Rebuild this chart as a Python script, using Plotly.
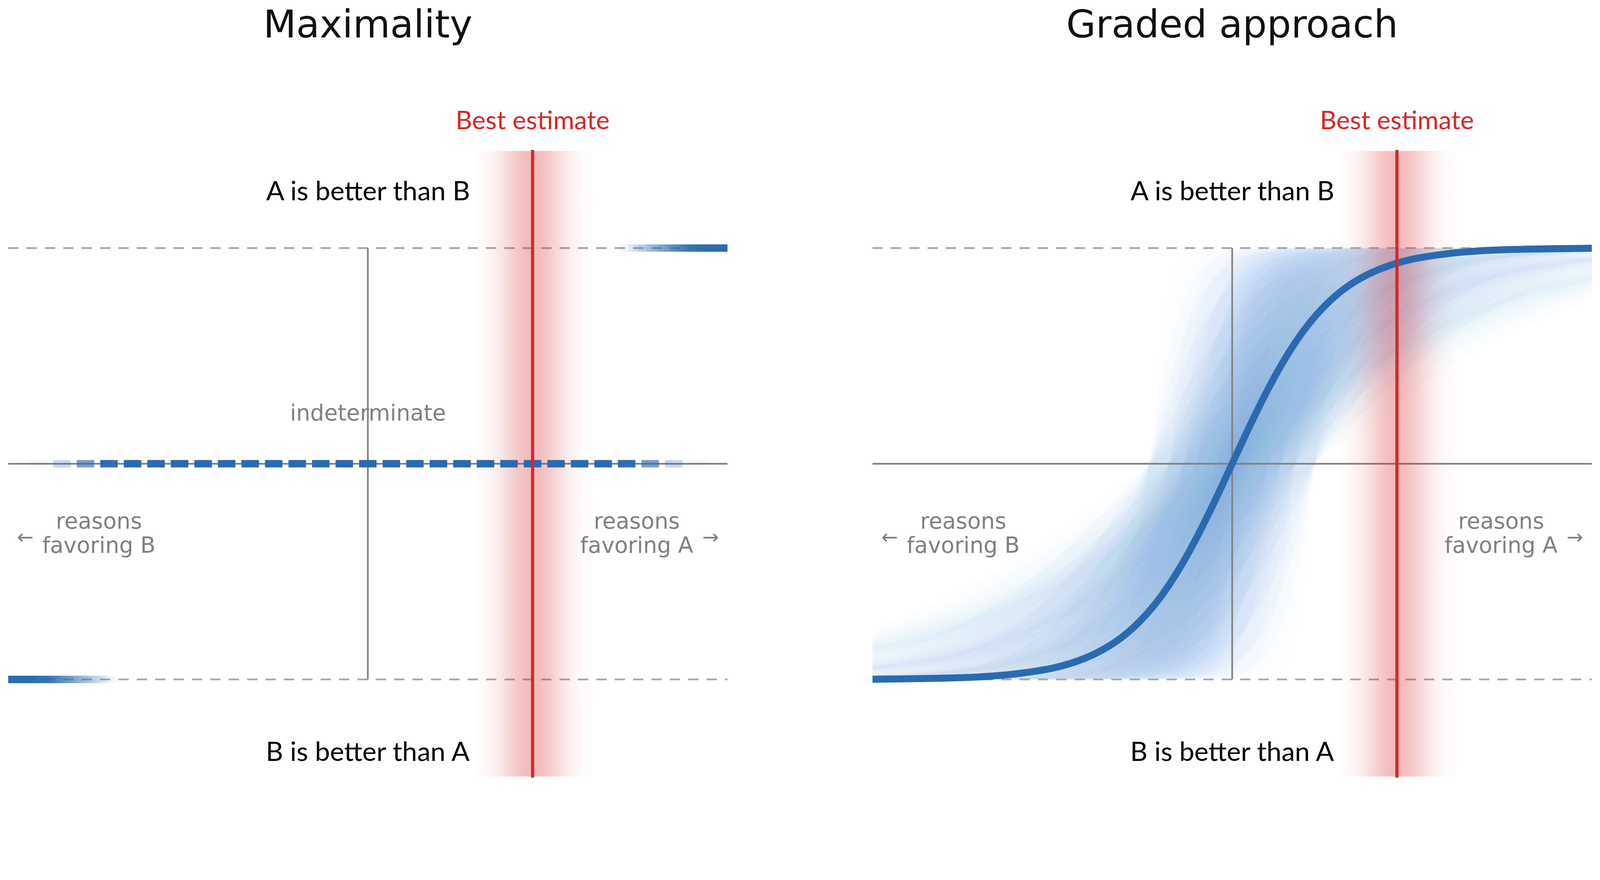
import numpy as np
import plotly.graph_objects as go

# reasons axis runs from -1 (everything favours B) to +1 (everything favours A)
best_estimate = 0.458
estimate_halfwidth = 0.1635
band_top = 1.45

# Maximality: share of admissible weightings backing a firm verdict (right half, left mirrors)
verdict_x = [0.68, 0.72, 0.75, 0.785, 0.817, 0.85, 0.886, 0.94, 1.0]
verdict_share = [0.0, 0.08, 0.26, 0.45, 0.6, 0.76, 0.92, 1.0, 1.0]
indet_x = [0.0, 0.66, 0.72, 0.785, 0.85, 0.915, 0.98]
indet_share = [1.0, 1.0, 0.97, 0.64, 0.26, 0.05, 0.0]

# Graded approach: comparative verdict
graded_x = [-1.0, -0.9, -0.8, -0.7, -0.6, -0.5, -0.45, -0.4, -0.35, -0.3, -0.25, -0.2,
            -0.15, -0.1, -0.05, 0.0, 0.05, 0.1, 0.15, 0.2, 0.25, 0.3, 0.35, 0.4, 0.45,
            0.5, 0.6, 0.7, 0.8, 0.9, 1.0]
graded_y = [-0.999, -0.997, -0.994, -0.988, -0.974, -0.948, -0.926, -0.895, -0.853, -0.796,
            -0.719, -0.62, -0.495, -0.347, -0.179, 0.0, 0.179, 0.347, 0.495, 0.62, 0.719,
            0.796, 0.853, 0.895, 0.926, 0.948, 0.974, 0.988, 0.994, 0.997, 0.999]

# haze of plausible curves: the curve stretched sideways, each smeared left/right
spread_scale = [0.18, 0.25, 0.35, 0.5, 0.7, 1.0, 1.4, 2.0, 2.8]
spread_band = [0.02, 0.045, 0.07, 0.1, 0.135, 0.175, 0.23]

BLUE = "#2a6ab0"
RED = "#d62728"
GREY = "#808080"
DASH = "#a9a9a9"
W, H = 4352, 2254
Y_RANGE = [-1.6899, 2.1499]


def red_glow_scale(peak=0.32, sigma=0.0613, n=25):
    p = np.linspace(0, 1, n)
    d = (p - 0.5) * 2 * estimate_halfwidth
    a = peak * np.exp(-d ** 2 / (2 * sigma ** 2))
    return [[float(pi), f"rgba(214,39,40,{ai:.3f})"] for pi, ai in zip(p, a)]


def blue_scale(xs, shares, flip=False):
    x0, x1 = xs[0], xs[-1]
    stops = [[(x - x0) / (x1 - x0), f"rgba(42,106,176,{s:.3f})"] for x, s in zip(xs, shares)]
    if flip:
        stops = [[1 - p, c] for p, c in stops][::-1]
    return stops


fig = go.Figure()


def add(trace, panel):
    ax = {"left": ("x", "y"), "glow": ("x2", "y2"), "right": ("x3", "y3")}[panel]
    trace.update(xaxis=ax[0], yaxis=ax[1], hoverinfo="skip", showlegend=False)
    fig.add_trace(trace)


def frame(panel):
    for lvl in (1, -1):
        add(go.Scatter(x=[-1, 1], y=[lvl, lvl], mode="lines",
                       line=dict(color=DASH, width=5, dash="28px,22px")), panel)
    add(go.Scatter(x=[-1, 1], y=[0, 0], mode="lines", line=dict(color=GREY, width=4.5)), panel)
    add(go.Scatter(x=[0, 0], y=[-1, 1], mode="lines", line=dict(color=GREY, width=4.5)), panel)


def estimate_band(panel):
    x0, x1 = best_estimate - estimate_halfwidth, best_estimate + estimate_halfwidth
    add(go.Scatter(x=[x0, x1, x1, x0, x0], y=[-band_top, -band_top, band_top, band_top, -band_top],
                   mode="lines", line=dict(width=0), fill="toself",
                   fillgradient=dict(type="horizontal", colorscale=red_glow_scale())), panel)


def estimate_line(panel):
    add(go.Scatter(x=[best_estimate, best_estimate], y=[-band_top - 0.005, band_top + 0.005],
                   mode="lines", line=dict(color=RED, width=8.5)), panel)


# ---- left: maximality ----
frame("left")
h = 10 / 587
vx = np.array(verdict_x)
add(go.Scatter(x=[vx[0], 1, 1, vx[0], vx[0]], y=[1 - h, 1 - h, 1 + h, 1 + h, 1 - h],
               mode="lines", line=dict(width=0), fill="toself",
               fillgradient=dict(type="horizontal", colorscale=blue_scale(verdict_x, verdict_share))),
    "left")
add(go.Scatter(x=[-1, -vx[0], -vx[0], -1, -1], y=[-1 - h, -1 - h, -1 + h, -1 + h, -1 - h],
               mode="lines", line=dict(width=0), fill="toself",
               fillgradient=dict(type="horizontal",
                                 colorscale=blue_scale(verdict_x, verdict_share, flip=True))),
    "left")
estimate_band("left")
dash_step = 64 / 978.5
dash_x = np.arange(-14, 15) * dash_step
dash_a = np.interp(np.abs(dash_x), indet_x, indet_share)
add(go.Scatter(x=dash_x, y=np.zeros_like(dash_x), mode="markers",
               marker=dict(symbol="line-ew", size=34,
                           line=dict(width=20, color=[f"rgba(42,106,176,{a:.3f})" for a in dash_a]))),
    "left")
estimate_line("left")

# ---- right: graded approach ----
gx = np.array(graded_x)
gy = np.array(graded_y)
px = np.concatenate([[-7.0], gx, [7.0]])
py = np.concatenate([[-1.0], gy, [1.0]])
for c in spread_scale:
    wc = np.exp(-np.log(c) ** 2 / (2 * 0.8 ** 2))
    for b in spread_band:
        a = 0.075 * wc
        xs = np.concatenate([px * c - b, (px * c + b)[::-1]])
        ys = np.concatenate([py, py[::-1]])
        add(go.Scatter(x=xs, y=ys, mode="lines", line=dict(width=0, shape="spline"),
                       fill="toself", fillcolor=f"rgba(143,185,226,{a:.4f})"), "glow")
frame("right")
estimate_band("right")
add(go.Scatter(x=gx, y=gy, mode="lines", line=dict(color=BLUE, width=19, shape="spline")), "right")
estimate_line("right")

# ---- text ----
LATO = "Lato"
DJV = "DejaVu Sans"
ann = []
for xr, yr, title, with_indet in (("x", "y", "Maximality", True), ("x3", "y3", "Graded approach", False)):
    ann += [
        dict(xref=xr, yref="paper", x=0, y=1 - 66 / H, text=title,
             font=dict(family=DJV, size=104, color="#111111")),
        dict(xref=xr, yref=yr, x=best_estimate, y=1.596, text="Best estimate",
             font=dict(family=LATO, size=70, color=RED)),
        dict(xref=xr, yref=yr, x=0, y=1.27, text="A is better than B",
             font=dict(family=LATO, size=73, color="#000000")),
        dict(xref=xr, yref=yr, x=0, y=-1.33, text="B is better than A",
             font=dict(family=LATO, size=73, color="#000000")),
        dict(xref=xr, yref=yr, x=-0.748, y=-0.266, text="reasons",
             font=dict(family=DJV, size=60, color=GREY)),
        dict(xref=xr, yref=yr, x=-0.748, y=-0.376, text="favoring B",
             font=dict(family=DJV, size=60, color=GREY)),
        dict(xref=xr, yref=yr, x=0.748, y=-0.266, text="reasons",
             font=dict(family=DJV, size=60, color=GREY)),
        dict(xref=xr, yref=yr, x=0.748, y=-0.376, text="favoring A",
             font=dict(family=DJV, size=60, color=GREY)),
        dict(xref=xr, yref=yr, x=-0.952, y=-0.339, text="←",
             font=dict(family=DJV, size=54, color=GREY)),
        dict(xref=xr, yref=yr, x=0.952, y=-0.339, text="→",
             font=dict(family=DJV, size=54, color=GREY)),
    ]
    if with_indet:
        ann.append(dict(xref=xr, yref=yr, x=0, y=0.237, text="indeterminate",
                        font=dict(family=DJV, size=60, color=GREY)))
for a in ann:
    a.update(showarrow=False, xanchor="center", yanchor="middle")

hidden = dict(visible=False, showgrid=False, zeroline=False, fixedrange=True)
left_dom = [22 / W, 1979 / W]
right_dom = [2373 / W, 4330 / W]
fig.update_layout(
    width=W, height=H,
    margin=dict(l=0, r=0, t=0, b=0),
    paper_bgcolor="white", plot_bgcolor="rgba(0,0,0,0)",
    showlegend=False,
    annotations=ann,
    xaxis=dict(hidden, domain=left_dom, range=[-1, 1]),
    yaxis=dict(hidden, domain=[0, 1], range=Y_RANGE),
    xaxis2=dict(hidden, domain=right_dom, range=[-1, 1]),
    yaxis2=dict(hidden, domain=[(H - 1849) / H, (H - 675) / H], range=[-1, 1]),
    xaxis3=dict(hidden, domain=right_dom, range=[-1, 1]),
    yaxis3=dict(hidden, domain=[0, 1], range=Y_RANGE),
)

# fit the fixed-size figure into whatever viewport the page is opened in
fit = """
var gd = document.getElementById('{plot_id}');
document.documentElement.style.overflow = 'hidden';
document.body.style.margin = '0';
document.body.style.overflow = 'hidden';
var s = Math.min(window.innerWidth / %d, window.innerHeight / %d);
gd.style.transformOrigin = '0 0';
gd.style.transform = 'scale(' + s + ')';
""" % (W, H)

fig.write_html("out.html", post_script=fit, config={"displayModeBar": False})
